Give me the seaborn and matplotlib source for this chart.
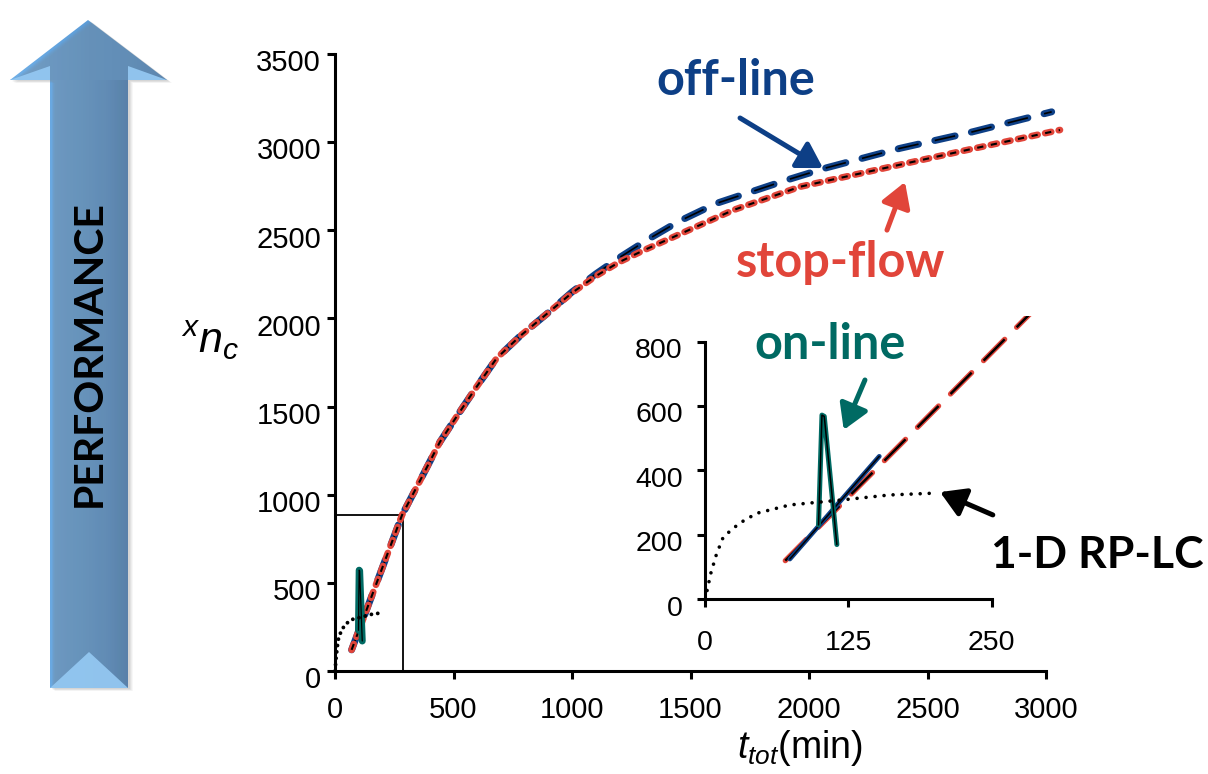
import matplotlib
matplotlib.use("Agg")
import numpy as np
import matplotlib.pyplot as plt
import matplotlib.patheffects as pe
import matplotlib.transforms as mtransforms
from matplotlib.patches import Polygon, Rectangle
from matplotlib.colors import LinearSegmentedColormap
import seaborn as sns

# ---- data -------------------------------------------------------------
# off-line 2D-LC (total analysis time in min vs. effective peak capacity)
t_offline = [70, 283, 360, 443, 513, 598, 682, 781, 893, 1000, 1100, 1200,
             1329, 1450, 1610, 1906, 2075, 2384, 2665, 3024]
n_offline = [120, 885, 1083, 1300, 1443, 1613, 1774, 1900, 2025, 2150, 2252,
             2345, 2455, 2550, 2653, 2785, 2855, 2965, 3050, 3172]
# stop-flow 2D-LC
t_stopflow = [70, 283, 360, 443, 513, 598, 682, 781, 893, 1000, 1100, 1200,
              1300, 1400, 1681, 1962, 2384, 2665, 3059]
n_stopflow = [120, 885, 1083, 1300, 1443, 1613, 1774, 1900, 2025, 2145, 2240,
              2320, 2385, 2445, 2615, 2747, 2872, 2955, 3069]
# off-line, short-time segment shown in the zoomed panel
t_offline_short = [74, 152]
n_offline_short = [125, 444]
# on-line 2D-LC
t_online = [99, 102, 104, 115]
n_online = [231, 572, 568, 170]
# 1-D RP-LC
t_rplc = [0, 2, 5, 10, 16, 30, 45, 74, 118, 161, 196]
n_rplc = [0, 30, 80, 140, 194, 236, 267, 293, 308, 324, 329]

main_xticks = [0, 500, 1000, 1500, 2000, 2500, 3000]
main_yticks = [0, 500, 1000, 1500, 2000, 2500, 3000, 3500]
zoom_xticks = [0, 125, 250]
zoom_yticks = [0, 200, 400, 600, 800]
zoom_box = (287, 885)   # extent of the region enlarged in the inset

# ---- style ------------------------------------------------------------
sns.set_style("white")
plt.rcParams["font.family"] = ["Liberation Sans", "DejaVu Sans"]
plt.rcParams["mathtext.fontset"] = "custom"
plt.rcParams["mathtext.rm"] = "Liberation Sans"
plt.rcParams["mathtext.it"] = "Liberation Sans:italic"
plt.rcParams["mathtext.bf"] = "Liberation Sans:bold"
plt.rcParams["lines.scale_dashes"] = False
plt.rcParams["text.color"] = "black"
plt.rcParams["axes.labelcolor"] = "black"

NAVY = "#0d3f86"
RED = "#e1453a"
TEAL = "#006a63"
CALLOUT_FONT = ["Lato", "DejaVu Sans"]

fig = plt.figure(figsize=(12.08, 7.74), dpi=100)
W, H = 1208, 774

# ---- decorative "PERFORMANCE" arrow (figure pixel space) --------------
bg = fig.add_axes([0, 0, 1, 1], zorder=-1)
bg.set_xlim(0, W)
bg.set_ylim(H, 0)
bg.axis("off")
arrow_pts = [(88, 20), (167, 80), (128, 80), (128, 688), (50, 688), (50, 80), (10, 80)]
for k, a in [(5, 0.06), (4, 0.08), (3, 0.10), (2, 0.12)]:
    bg.add_patch(Polygon([(x + k, y + k * 0.6) for x, y in arrow_pts], closed=True,
                         fc="#7f7f7f", ec="none", alpha=a))
arrow_poly = Polygon(arrow_pts, closed=True, fc="none", ec="none")
bg.add_patch(arrow_poly)
grad = np.tile(np.linspace(0, 1, 256), (4, 1))
im = bg.imshow(grad, cmap=LinearSegmentedColormap.from_list(
    "head", ["#70afe6", "#66a6e0", "#5c9cd7", "#5797d2", "#4f8bc6"]),
    extent=(10, 167, 688, 20), aspect="auto", interpolation="bicubic")
im.set_clip_path(arrow_poly)
bg.imshow(grad, cmap=LinearSegmentedColormap.from_list(
    "body", ["#6aa9e2", "#62a2dc", "#5c9cd7", "#5593cf", "#4a84bf"]),
    extent=(50, 128, 688, 80), aspect="auto", interpolation="bicubic")
for tri in ([(10, 80), (50, 80), (50, 66)], [(128, 80), (167, 80), (128, 66)],
            [(50, 688), (89, 652), (128, 688)]):
    bg.add_patch(Polygon(tri, closed=True, fc="#93c7f1", ec="none", alpha=0.95))
bg.text(89, 354, "PERFORMANCE", rotation=90, ha="center", va="center",
        fontsize=29.5, fontweight="bold", family=CALLOUT_FONT, color="black")


def outlined(ax, x, y, core, core_lw, edge, edge_lw, ls="-", z=2, clip=True):
    sns.lineplot(x=x, y=y, ax=ax, color=core, lw=core_lw, linestyle=ls,
                 sort=False, estimator=None, zorder=z, clip_on=clip,
                 dash_capstyle="butt",
                 path_effects=[pe.Stroke(linewidth=edge_lw, foreground=edge,
                                         capstyle="round"), pe.Normal()])


def dotted(ax, x, y, lw, gap, z=5):
    sns.lineplot(x=x, y=y, ax=ax, color="black", lw=lw,
                 linestyle=(0, (0.01, gap)), dash_capstyle="round",
                 sort=False, estimator=None, zorder=z, clip_on=False)


def style_axis(ax, size, xpad, ypad):
    for s in ("top", "right"):
        ax.spines[s].set_visible(False)
    for s in ("left", "bottom"):
        ax.spines[s].set_linewidth(2.2)
        ax.spines[s].set_color("black")
    ax.tick_params(direction="out", length=6, width=2.2, labelsize=size,
                   colors="black", left=True, bottom=True)
    ax.tick_params(axis="x", pad=xpad)
    ax.tick_params(axis="y", pad=ypad)
    ax.grid(False)


def nudge_ylabels(ax, dy_pt):
    shift = mtransforms.ScaledTranslation(0, -dy_pt / 72, fig.dpi_scale_trans)
    for lab in ax.get_yticklabels():
        lab.set_transform(lab.get_transform() + shift)


# ---- main axes ---------------------------------------------------------
ax = fig.add_axes([335 / W, (H - 671) / H, 711 / W, 617 / H])
ax.set_facecolor("none")
outlined(ax, t_offline, n_offline, "black", 1.2, NAVY, 5.0,
         ls=(0, (15, 12)), z=2, clip=False)
outlined(ax, t_stopflow, n_stopflow, "black", 1.5, RED, 4.8,
         ls=(0, (4.5, 5.5)), z=3, clip=False)
outlined(ax, t_online, n_online, "black", 0.9, TEAL, 5.0, z=4, clip=False)
dotted(ax, t_rplc, n_rplc, 2.8, 4.6)
ax.add_patch(Rectangle((0, 0), zoom_box[0], zoom_box[1], fill=False,
                       ec="black", lw=1.3, zorder=1))
ax.set_xlim(0, 3000)
ax.set_ylim(0, 3500)
ax.set_xticks(main_xticks)
ax.set_yticks(main_yticks)
style_axis(ax, 21, xpad=12, ypad=4)
ax.set_ylabel(r"$^{x}n_{c}$", rotation=0, fontsize=31, ha="center", va="center",
              color="black")
ax.yaxis.set_label_coords(-0.176, 0.536)
ax.set_xlabel(r"$t_{tot}$(min)", fontsize=27, va="center", color="black")
ax.xaxis.set_label_coords(0.654, -0.125)

ax.text(1692, 3352, "off-line", color=NAVY, fontsize=35, fontweight="bold",
        family=CALLOUT_FONT, ha="center", va="center")
ax.text(2131, 2320, "stop-flow", color=RED, fontsize=35, fontweight="bold",
        family=CALLOUT_FONT, ha="center", va="center")


def pointer(axis, tip, tail, color):
    axis.annotate("", xy=tip, xytext=tail, annotation_clip=False,
                  arrowprops=dict(arrowstyle="-|>,head_length=0.75,head_width=0.45",
                                  mutation_scale=20, color=color, lw=3.6,
                                  shrinkA=0, shrinkB=0))


pointer(ax, (2059, 2853), (1709, 3137), NAVY)
pointer(ax, (2405, 2774), (2329, 2501), RED)

# ---- inset axes (zoom on the short-time region) ------------------------
ax_in = fig.add_axes([705 / W, (H - 599.3) / H, 344 / W, 283.4 / H])
ax_in.set_facecolor("none")
outlined(ax_in, t_stopflow, n_stopflow, "black", 1.8, RED, 3.8,
         ls=(0, (21.6, 12.2)), z=2, clip=True)
outlined(ax_in, t_offline_short, n_offline_short, "black", 1.1, NAVY, 3.4, z=3)
outlined(ax_in, t_online, n_online, "black", 1.1, TEAL, 3.6, z=4, clip=False)
dotted(ax_in, t_rplc, n_rplc, 2.6, 6.5)
ax_in.set_xlim(0, 300)
ax_in.set_ylim(0, 880)
ax_in.set_xticks(zoom_xticks)
ax_in.set_yticks(zoom_yticks)
style_axis(ax_in, 20.5, xpad=16, ypad=10)
ax_in.spines["bottom"].set_bounds(0, 250)
ax_in.spines["left"].set_bounds(0, 800)
ax_in.set_xlabel("")
ax_in.set_ylabel("")

ax_in.text(109, 790, "on-line", color=TEAL, fontsize=35, fontweight="bold",
           family=CALLOUT_FONT, ha="center", va="center")
ax_in.text(342, 138, "1-D RP-LC", color="black", fontsize=32, fontweight="bold",
           family=CALLOUT_FONT, ha="center", va="center")
pointer(ax_in, (121, 526), (139.5, 681), TEAL)
pointer(ax_in, (205, 333), (251, 262), "black")

nudge_ylabels(ax, 4.5)
nudge_ylabels(ax_in, 4.5)

fig.savefig("out.png", dpi=100)
